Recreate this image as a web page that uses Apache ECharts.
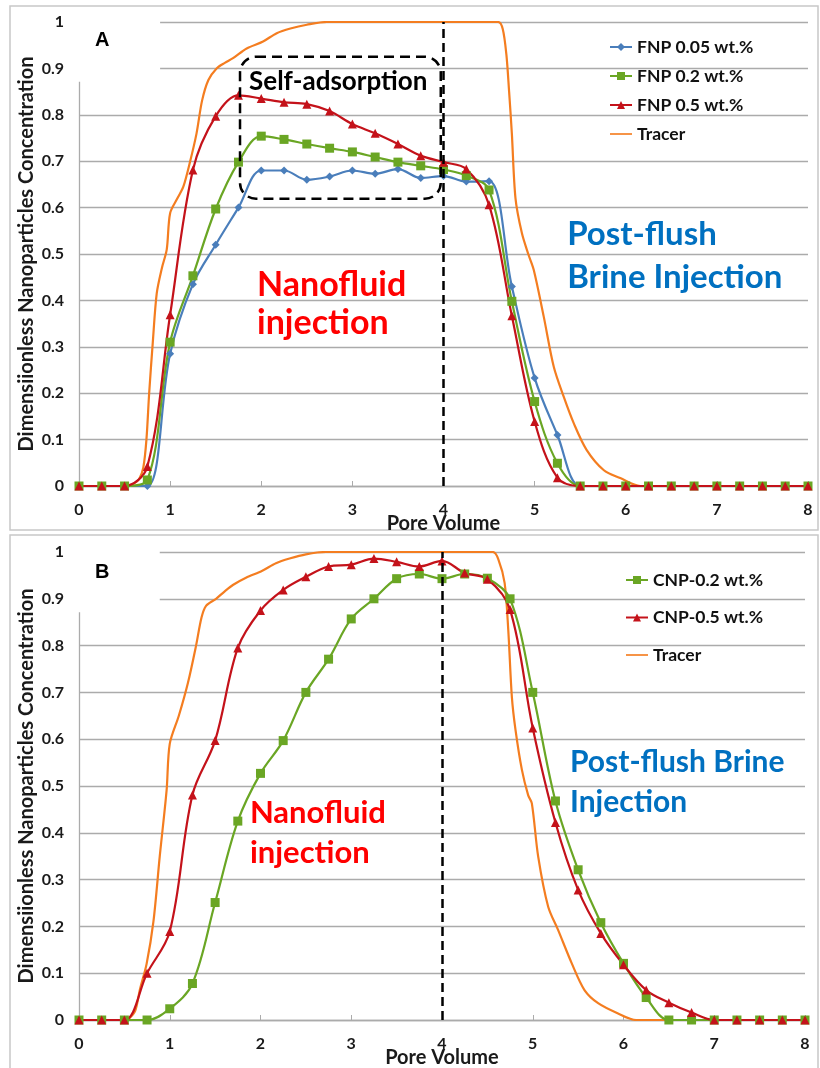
<!DOCTYPE html>
<html>
<head>
<meta charset="utf-8">
<script src="https://cdn.jsdelivr.net/npm/echarts@6/dist/echarts.min.js"></script>
<style>
html,body{margin:0;padding:0;background:#fff;}
#c{width:820px;height:1068px;}
</style>
</head>
<body>
<div id="c"></div>
<script>
// ---------- data ----------
const poreVolume = [0,0.25,0.5,0.75,1,1.25,1.5,1.75,2,2.25,2.5,2.75,3,3.25,3.5,3.75,4,4.25,4.5,4.75,5,5.25,5.5,5.75,6,6.25,6.5,6.75,7,7.25,7.5,7.75,8];

// Panel A
const fnp005 = [0,0,0,0,0.285,0.435,0.52,0.60,0.68,0.68,0.66,0.667,0.68,0.673,0.683,0.664,0.668,0.656,0.657,0.43,0.233,0.11,0,0,0,0,0,0,0,0,0,0,0];
const fnp02  = [0,0,0,0.013,0.31,0.453,0.597,0.698,0.754,0.747,0.737,0.728,0.72,0.709,0.698,0.69,0.682,0.669,0.638,0.398,0.182,0.049,0,0,0,0,0,0,0,0,0,0,0];
const fnp05  = [0,0,0,0.042,0.369,0.681,0.797,0.842,0.835,0.827,0.823,0.808,0.78,0.76,0.737,0.712,0.698,0.683,0.606,0.367,0.139,0.018,0,0,0,0,0,0,0,0,0,0,0];
const tracerAx = [0,0.5,0.6,0.66,0.706,0.74,0.77,0.81,0.853,0.91,0.963,1.0,1.08,1.145,1.22,1.29,1.35,1.42,1.51,1.6,1.69,1.84,2.02,2.17,2.32,2.5,2.72,3,4,4.6,4.65,4.69,4.72,4.75,4.79,4.86,4.93,4.99,5.1,5.21,5.32,5.43,5.57,5.76,5.94,6.16,7,8];
const tracerAy = [0,0,0.005,0.015,0.04,0.1,0.2,0.31,0.415,0.47,0.51,0.588,0.62,0.645,0.70,0.76,0.83,0.875,0.90,0.912,0.922,0.943,0.958,0.976,0.986,0.994,1,1,1,1,0.985,0.93,0.85,0.76,0.62,0.545,0.5,0.466,0.365,0.257,0.192,0.135,0.078,0.034,0.017,0,0,0];

// Panel B
const cnp02 = [0,0,0,0,0.024,0.078,0.251,0.425,0.527,0.597,0.70,0.771,0.857,0.90,0.943,0.953,0.943,0.953,0.944,0.90,0.70,0.468,0.321,0.208,0.121,0.048,0,0,0,0,0,0,0];
const cnp05 = [0,0,0,0.10,0.189,0.481,0.597,0.795,0.875,0.919,0.947,0.969,0.973,0.986,0.979,0.969,0.981,0.955,0.942,0.877,0.624,0.422,0.278,0.185,0.118,0.064,0.037,0.016,0,0,0,0,0];
const tracerBx = [0,0.5,0.55,0.62,0.67,0.745,0.82,0.89,0.965,1.0,1.1,1.2,1.29,1.35,1.4,1.51,1.6,1.7,1.84,2.02,2.17,2.32,2.5,2.72,4,4.56,4.62,4.69,4.73,4.77,4.81,4.88,4.95,4.99,5.06,5.17,5.28,5.43,5.57,5.72,5.94,6.14,7,8];
const tracerBy = [0,0,0.003,0.02,0.064,0.12,0.21,0.35,0.49,0.59,0.65,0.72,0.80,0.86,0.885,0.90,0.915,0.93,0.945,0.96,0.976,0.986,0.995,1,1,1,0.985,0.934,0.834,0.69,0.62,0.535,0.48,0.463,0.349,0.242,0.192,0.121,0.064,0.036,0.014,0,0,0];

const yTicks = [0,0.1,0.2,0.3,0.4,0.5,0.6,0.7,0.8,0.9,1];
const xTicks = [0,1,2,3,4,5,6,7,8];

const legendA = ['FNP 0.05 wt.%','FNP 0.2 wt.%','FNP 0.5 wt.%','Tracer'];
const legendB = ['CNP-0.2 wt.%','CNP-0.5 wt.%','Tracer'];

// ---------- styles ----------
const FONT = 'Lato';
const C_BLUE = '#4a7ebb', C_GREEN = '#6aa624', C_RED = '#c4121a', C_ORANGE = '#f47d20';
const GRID_C = '#ababab';

const pairs = (xs, ys) => xs.map((x, i) => [x, ys[i]]);

function xAxisCfg(gi){
  return {
    type:'value', gridIndex:gi, min:0, max:8, interval:1,
    axisLine:{show:true, onZero:false, lineStyle:{color:GRID_C, width:1.3}},
    axisTick:{show:true, inside:true, length:5, lineStyle:{color:GRID_C}},
    splitLine:{show:false},
    axisLabel:{color:'#1a1a1a', fontFamily:FONT, fontWeight:'bold', fontSize:16, margin:16,
      formatter:v => xTicks.includes(v) ? String(v) : ''},
    name:'Pore Volume', nameLocation:'middle', nameGap:28, nameMoveOverlap:false,
    nameTextStyle:{color:'#1a1a1a', fontFamily:FONT, fontWeight:'bold', fontSize:20}
  };
}
function yAxisCfg(gi){
  return {
    type:'value', gridIndex:gi, min:0, max:1, interval:0.1,
    axisLine:{show:true, lineStyle:{color:GRID_C, width:1.3}},
    axisTick:{show:false},
    splitLine:{show:true, lineStyle:{color:GRID_C, width:1.3}},
    axisLabel:{color:'#1a1a1a', fontFamily:FONT, fontWeight:'bold', fontSize:16, margin:15,
      formatter:v => { const t = yTicks.find(k => Math.abs(k - v) < 1e-9); return t === undefined ? '' : String(t); }},
    name:'Dimensiionless Nanoparticles Concentration', nameLocation:'middle', nameGap:42, nameMoveOverlap:false,
    nameTextStyle:{color:'#1a1a1a', fontFamily:FONT, fontWeight:'bold', fontSize:20}
  };
}
function markerSeries(name, gi, ys, color, symbol, size){
  return {
    name, type:'line', xAxisIndex:gi, yAxisIndex:gi,
    data: pairs(poreVolume, ys), smooth:0.35,
    symbol, symbolSize:size, showSymbol:true,
    lineStyle:{color, width:2.2}, itemStyle:{color, borderWidth:0},
    z:3
  };
}
function tracerSeries(gi, xs, ys){
  return {
    name:'Tracer', type:'line', xAxisIndex:gi, yAxisIndex:gi,
    data: pairs(xs, ys), smooth:0.3, symbol:'none',
    lineStyle:{color:C_ORANGE, width:2.2}, itemStyle:{color:C_ORANGE}, z:2
  };
}
const dashLine = {
  silent:true, symbol:['none','none'], label:{show:false},
  lineStyle:{color:'#000', type:[9,5], width:2.5},
  data:[{xAxis:4}], animation:false
};

const sA1 = markerSeries('FNP 0.05 wt.%', 0, fnp005, C_BLUE, 'diamond', 8);
sA1.markLine = dashLine;
const sB1 = markerSeries('CNP-0.2 wt.%', 1, cnp02, C_GREEN, 'rect', 9);
sB1.markLine = dashLine;

const legendText = {color:'#111', fontFamily:FONT, fontWeight:'bold', fontSize:17.5, lineHeight:20};
const lineIcon = 'path://M0,0 L40,0 L40,3 L0,3 Z';
const legendData = names => names.map(n => n === 'Tracer' ? {name:n, icon:lineIcon} : n);

const chart = echarts.init(document.getElementById('c'), null, {renderer:'canvas'});
chart.setOption({
  animation:false,
  backgroundColor:'#fff',
  grid:[
    {left:79, top:22, width:729, height:464, outerBoundsMode:'none', containLabel:false},
    {left:79, top:552, width:726, height:468, outerBoundsMode:'none', containLabel:false}
  ],
  xAxis:[xAxisCfg(0), xAxisCfg(1)],
  yAxis:[yAxisCfg(0), yAxisCfg(1)],
  legend:[
    {data:legendData(legendA), orient:'vertical', left:604, top:32, itemWidth:22, itemHeight:10, itemGap:9,
     textStyle:legendText, selectedMode:false},
    {data:legendData(legendB), orient:'vertical', left:620, top:565, itemWidth:22, itemHeight:10, itemGap:17.5,
     textStyle:legendText, selectedMode:false}
  ],
  series:[
    sA1,
    markerSeries('FNP 0.2 wt.%', 0, fnp02, C_GREEN, 'rect', 9),
    markerSeries('FNP 0.5 wt.%', 0, fnp05, C_RED, 'triangle', 9),
    tracerSeries(0, tracerAx, tracerAy),
    sB1,
    markerSeries('CNP-0.5 wt.%', 1, cnp05, C_RED, 'triangle', 9),
    tracerSeries(1, tracerBx, tracerBy)
  ]
});

// ---------- annotations anchored in data coordinates ----------
const P = (gi, x, y) => chart.convertToPixel({gridIndex:gi}, [x, y]);
const g = [];
// panel frames
g.push({type:'rect', shape:{x:10, y:6, width:808, height:524}, style:{fill:'none', stroke:'#c8c8c8', lineWidth:1.5}, z:0});
g.push({type:'rect', shape:{x:10, y:535, width:808, height:540}, style:{fill:'none', stroke:'#c8c8c8', lineWidth:1.5}, z:0});
function whiteBox(gi){
  const a = P(gi, 0, 1), b = P(gi, 0.89, 0.871);
  g.push({type:'rect', shape:{x:a[0]-1, y:a[1]-2, width:b[0]-a[0]+1, height:b[1]-a[1]+2}, style:{fill:'#fff'}, z:1});
}
whiteBox(0); whiteBox(1);
function txt(gi, x, y, text, color, size, font){
  const p = P(gi, x, y);
  g.push({type:'text', x:p[0], y:p[1], z:5,
    style:{text, fill:color, font:'bold ' + size + 'px ' + (font || FONT), textAlign:'left', textVerticalAlign:'middle'}});
}
txt(0, 0.176, 0.961, 'A', '#000', 20, 'Liberation Sans');
txt(1, 0.176, 0.956, 'B', '#000', 20, 'Liberation Sans');
// self-adsorption box
{
  const a = P(0, 1.767, 0.925), b = P(0, 3.97, 0.619);
  g.push({type:'rect', shape:{x:a[0], y:a[1], width:b[0]-a[0], height:b[1]-a[1], r:16}, z:4,
    style:{fill:'none', stroke:'#000', lineWidth:2.5, lineDash:[10,6]}});
}
txt(0, 1.866, 0.871, 'Self-adsorption', '#000', 26);
txt(0, 1.954, 0.433, 'Nanofluid', '#ff0000', 34);
txt(0, 1.954, 0.351, 'injection', '#ff0000', 34);
txt(0, 5.357, 0.543, 'Post-flush', '#0070c0', 33);
txt(0, 5.357, 0.45, 'Brine Injection', '#0070c0', 33);
txt(1, 1.883, 0.443, 'Nanofluid', '#ff0000', 31);
txt(1, 1.883, 0.357, 'injection', '#ff0000', 31);
txt(1, 5.41, 0.55, 'Post-flush Brine', '#0070c0', 30);
txt(1, 5.41, 0.466, 'Injection', '#0070c0', 30);
chart.setOption({graphic:g});
</script>
</body>
</html>
